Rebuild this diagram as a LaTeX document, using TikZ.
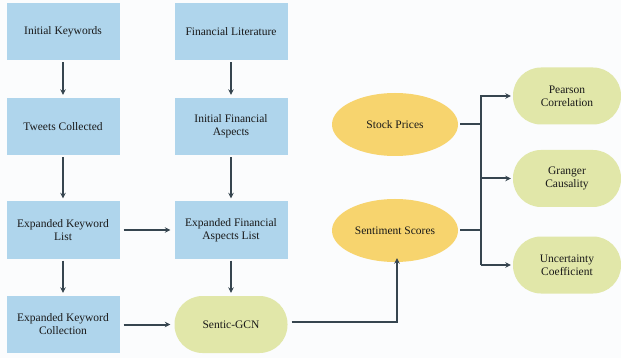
\documentclass[tikz,border=0pt]{standalone}
\usepackage{fontspec}
\setmainfont{Liberation Serif}
\usetikzlibrary{shapes.geometric,arrows.meta}
\definecolor{boxblue}{HTML}{AFD5EC}
\definecolor{ellyel}{HTML}{F7D46E}
\definecolor{stadgreen}{HTML}{E1E7A9}
\definecolor{linecol}{HTML}{36454F}
\definecolor{bgcol}{HTML}{FBFCFD}
\begin{document}
\begin{tikzpicture}[x=1pt,y=-1pt,
  every node/.style={font=\rmfamily\fontsize{11.5}{13}\selectfont, text=black!90, align=center},
  bluebox/.style={rectangle, fill=boxblue, minimum width=113pt, minimum height=57pt, inner sep=2pt},
  stadium/.style={rectangle, rounded corners=28pt, fill=stadgreen, minimum width=113pt, minimum height=57pt, inner sep=2pt},
  oval/.style={ellipse, fill=ellyel, minimum width=126pt, minimum height=63pt, inner sep=1pt},
  conn/.style={draw=linecol, line width=2pt, -{Stealth[length=5.5pt,width=5.5pt]}},
  plain/.style={draw=linecol, line width=2pt}]
\fill[bgcol] (0,0) rectangle (621,358);
\useasboundingbox (0,0) rectangle (621,358);
\node[bluebox] (ik) at (63,31.5) {Initial Keywords};
\node[bluebox] (fl) at (231,31.5) {Financial Literature};
\node[bluebox] (tc) at (63,126.5) {Tweets Collected};
\node[bluebox] (ifa) at (231,126.5) {Initial Financial\\Aspects};
\node[bluebox] (ekl) at (63,230) {Expanded Keyword\\List};
\node[bluebox] (efa) at (231,230) {Expanded Financial\\Aspects List};
\node[bluebox] (ekc) at (63,324.5) {Expanded Keyword\\Collection};
\node[stadium] (sg) at (231,324.5) {Sentic-GCN};
\node[oval] (sp) at (395,124.5) {Stock Prices};
\node[oval] (ss) at (395,230.5) {Sentiment Scores};
\node[stadium, minimum width=108pt] (pc) at (567,96) {Pearson\\Correlation};
\node[stadium, minimum width=108pt] (gc) at (567,178.5) {Granger\\Causality};
\node[stadium, minimum width=108pt] (uc) at (567,265) {Uncertainty\\Coefficient};
\draw[conn] ([yshift=-2pt]ik.south) -- ([yshift=3pt]tc.north);
\draw[conn] ([yshift=-2pt]fl.south) -- ([yshift=3pt]ifa.north);
\draw[conn] ([yshift=-2pt]tc.south) -- ([yshift=3pt]ekl.north);
\draw[conn] ([yshift=-2pt]ifa.south) -- ([yshift=3pt]efa.north);
\draw[conn] ([yshift=-2pt]ekl.south) -- ([yshift=3pt]ekc.north);
\draw[conn] ([yshift=-2pt]efa.south) -- ([yshift=3pt]sg.north);
\draw[conn] ([xshift=4pt]ekl.east) -- ([xshift=-4pt]efa.west);
\draw[conn] ([xshift=4pt]ekc.east) -- ([xshift=-4pt]sg.west);
\coordinate (bend) at (397,322);
\coordinate (jx) at (481,96);
\draw[conn] ([xshift=4pt]sg.east |- bend) -- (bend) -- ([yshift=4pt]ss.south -| bend);
\draw[plain] ([xshift=2pt]sp.east) -- (sp.east -| jx);
\draw[plain] ([xshift=2pt]ss.east) -- (ss.east -| jx);
\draw[conn] (jx |- uc.west) -- (jx) -- ([xshift=-2pt]pc.west);
\draw[conn] (jx |- gc.west) -- ([xshift=-2pt]gc.west);
\draw[conn] (jx |- uc.west) -- ([xshift=-2pt]uc.west);
\end{tikzpicture}
\end{document}
